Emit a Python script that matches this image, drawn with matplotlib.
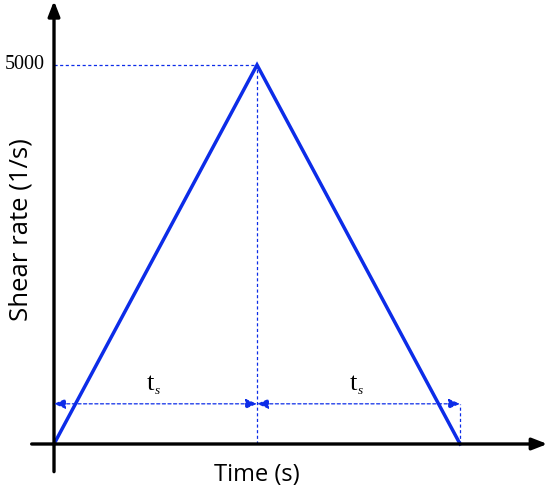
import matplotlib.pyplot as plt

# shear ramp: up over ts, down over ts (time in units of ts)
time = [0, 1, 2]
rate = [0, 5000, 0]
peak_label = '5000'
x_label = 'Time (s)'
y_label = 'Shear rate (1/s)'

BLUE = '#0c2ce8'

fig = plt.figure(figsize=(5.5, 4.91), dpi=100)
ax = fig.add_axes([0, 0, 1, 1])
ax.set_xlim(-0.266, 2.443)
ax.set_ylim(-620, 5857)
ax.axis('off')

# axes with arrow heads
arrow = dict(arrowstyle='-|>,head_length=0.9,head_width=0.35', color='black', lw=2.4,
             shrinkA=0, shrinkB=0)
ax.annotate('', xy=(2.43, 0), xytext=(-0.11, 0), arrowprops=arrow)
ax.annotate('', xy=(0, 5845), xytext=(0, -365), arrowprops=arrow)

# guide lines
dot = dict(color=BLUE, lw=0.9, ls=(0, (2.5, 2)))
ax.plot([0, time[1]], [rate[1], rate[1]], **dot)
ax.plot([time[1], time[1]], [0, rate[1]], **dot)
ax.plot([time[2], time[2]], [0, 530], **dot)

# ts spans
span_y = 530
span = dict(arrowstyle='<|-|>,head_length=0.7,head_width=0.3', color=BLUE, lw=0.9,
            ls=(0, (2.5, 2)), shrinkA=0, shrinkB=0)
ax.annotate('', xy=(time[0], span_y), xytext=(time[1], span_y), arrowprops=span)
ax.annotate('', xy=(time[1], span_y), xytext=(time[2], span_y), arrowprops=span)
for xm in [(time[0] + time[1]) / 2, (time[1] + time[2]) / 2]:
    ax.text(xm - 0.025, 712, 't', ha='center', va='baseline',
            family='Liberation Serif', fontsize=19)
    ax.text(xm + 0.008, 660, 's', ha='center', va='baseline',
            family='Liberation Serif', style='italic', fontsize=9.5)

# ramp
ax.plot(time, rate, color=BLUE, lw=2.5, solid_joinstyle='miter')

ax.text(-0.045, rate[1], peak_label, ha='right', va='center',
        family='Liberation Serif', fontsize=14.5)
ax.text(time[1], -250, x_label, ha='center', va='top', family='Open Sans', fontsize=17)
ax.text(-0.163, 2823, y_label, ha='center', va='center', rotation=90,
        family='Open Sans', fontsize=18.5)

fig.savefig('out.png', dpi=100)
